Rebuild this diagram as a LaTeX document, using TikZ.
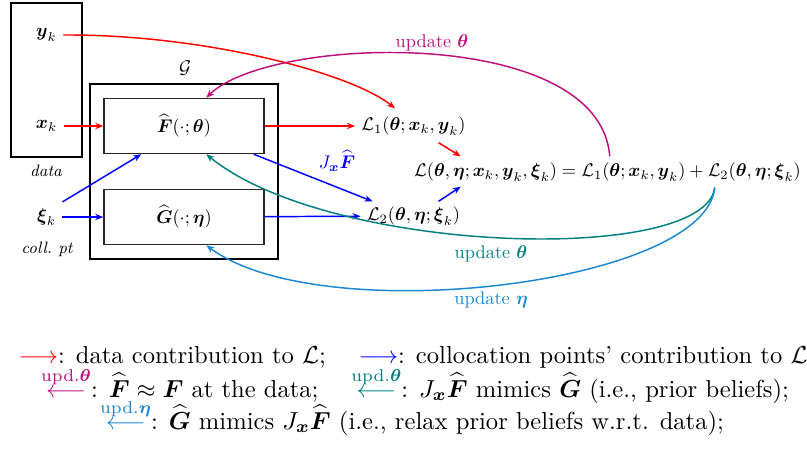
\documentclass[tikz,border=0pt]{standalone}
\usepackage{graphicx}
\usepackage{amsmath,amssymb}
\usetikzlibrary{arrows.meta,calc}
\definecolor{updth}{RGB}{190,15,125}
\definecolor{updtt}{RGB}{0,128,128}
\definecolor{upeta}{RGB}{25,135,210}
\newcommand{\updarr}[2]{\textcolor{#1}{\overset{\text{upd.}#2}{\longleftarrow}}}
\begin{document}
\begin{tikzpicture}[x=0.545pt,y=-0.545pt,
  >={Stealth[length=4.4pt,width=3.5pt]},
  conn/.style={thick,->},
  bx/.style={draw,thick},
  inbox/.style={draw=black!85,thick,minimum width=160*0.545pt,minimum height=55*0.545pt},
  lab/.style={font=\small\itshape},
  leg/.style={anchor=base}]
\useasboundingbox (0,0) rectangle (807,451);

% boxes
\node[draw,line width=1.1pt,minimum width=188*0.545pt,minimum height=175*0.545pt] (Gbox) at (184,171.5) {};
\node (Glab) at (185,68) {$\mathcal{G}$};
\node[bx,minimum width=71*0.545pt,minimum height=154*0.545pt] (data) at (46.5,80) {};
\node[inbox] (F) at (184,126) {$\widehat{\boldsymbol F}(\cdot;\boldsymbol\theta)$};
\node[inbox] (G) at (184,217) {$\widehat{\boldsymbol G}(\cdot;\boldsymbol\eta)$};

% inputs
\node (yk) at (46.5,35) {$\boldsymbol y_k$};
\node (xk) at (46.5,126) {$\boldsymbol x_k$};
\node (xi) at (46.5,217) {$\boldsymbol\xi_k$};
\node[lab] (datalab) at (46,171) {data};
\node[lab] (colllab) at (47,249) {coll.\ pt};

% losses
\node (L1) at (413.5,126) {$\mathcal{L}_1(\boldsymbol\theta;\boldsymbol x_k,\boldsymbol y_k)$};
\node (L2) at (413.5,216) {$\mathcal{L}_2(\boldsymbol\theta,\boldsymbol\eta;\boldsymbol\xi_k)$};
\node (S) at (607.5,172) {$\mathcal{L}(\boldsymbol\theta,\boldsymbol\eta;\boldsymbol x_k,\boldsymbol y_k,\boldsymbol\xi_k) = \mathcal{L}_1(\boldsymbol\theta;\boldsymbol x_k,\boldsymbol y_k) + \mathcal{L}_2(\boldsymbol\theta,\boldsymbol\eta;\boldsymbol\xi_k)$};

% named end points
\coordinate (fTop) at ($(F.north west)+(103,0)$);
\coordinate (fBot) at ($(F.south west)+(103,0)$);
\coordinate (gBot) at ($(G.south west)+(103,0)$);
\coordinate (fIn) at ($(F.south west)+(38,0)$);
\coordinate (fOut) at ($(F.south east)+(-11,0)$);
\coordinate (l1Top) at ($(L1.north west)+(40,-2)$);
\coordinate (l1Out) at ($(L1.south)+(25,1)$);
\coordinate (l2In) at ($(L2.north west)+(12,1)$);
\coordinate (l2Out) at ($(L2.north)+(25,1)$);
\coordinate (sIn1) at ($(S.north west)+(53,0)$);
\coordinate (sIn2) at ($(S.south west)+(53,-1)$);
\coordinate (sTh) at ($(S.north west)+(202,0)$);
\coordinate (sL2) at ($(S.south west)+(307,0)$);

% data connectors
\draw[conn,red] (xk) -- (F);
\draw[conn,red] (yk.east) .. controls (200,34) and (350,72) .. (l1Top);
\draw[conn,red] (F) -- (L1);
\draw[conn,red] (l1Out) -- (sIn1);

% collocation connectors
\draw[conn,blue] (xi) -- (G);
\draw[conn,blue] (xi.north east) -- (fIn);
\draw[conn,blue] (fOut) -- (l2In);
\draw[conn,blue] (G) -- (L2);
\draw[conn,blue] (l2Out) -- (sIn2);
\node[text=blue] (JF) at (337,161) {$J_{\boldsymbol x}\widehat{\boldsymbol F}$};

% updates
\draw[conn,updth] (sTh) .. controls (600,25) and (270,35) .. (fTop);
\node[text=updth] (u1) at (432,43) {update $\boldsymbol\theta$};
\draw[conn,updtt] (sL2) .. controls (705,265) and (330,255) .. (fBot);
\node[text=updtt] (u2) at (491,254) {update $\boldsymbol\theta$};
\draw[conn,upeta] (sL2) .. controls (705,285) and (320,330) .. (gBot);
\node[text=upeta] (u3) at (491,300) {update $\boldsymbol\eta$};

% legend
\node[leg] (leg1) at (413,363) {\scalebox{1.34}{$\textcolor{red}{\longrightarrow}$: data contribution to $\mathcal{L}$; \quad $\textcolor{blue}{\longrightarrow}$: collocation points' contribution to $\mathcal{L}$}};
\node[leg] (leg2) at (415,397) {\scalebox{1.34}{$\updarr{updth}{\boldsymbol\theta}$: $\widehat{\boldsymbol F}\approx\boldsymbol F$ at the data; \quad $\updarr{updtt}{\boldsymbol\theta}$: $J_{\boldsymbol x}\widehat{\boldsymbol F}$ mimics $\widehat{\boldsymbol G}$ (i.e., prior beliefs);}};
\node[leg] (leg3) at (412,429) {\scalebox{1.34}{$\updarr{upeta}{\boldsymbol\eta}$: $\widehat{\boldsymbol G}$ mimics $J_{\boldsymbol x}\widehat{\boldsymbol F}$ (i.e., relax prior beliefs w.r.t. data);}};
\end{tikzpicture}
\end{document}
